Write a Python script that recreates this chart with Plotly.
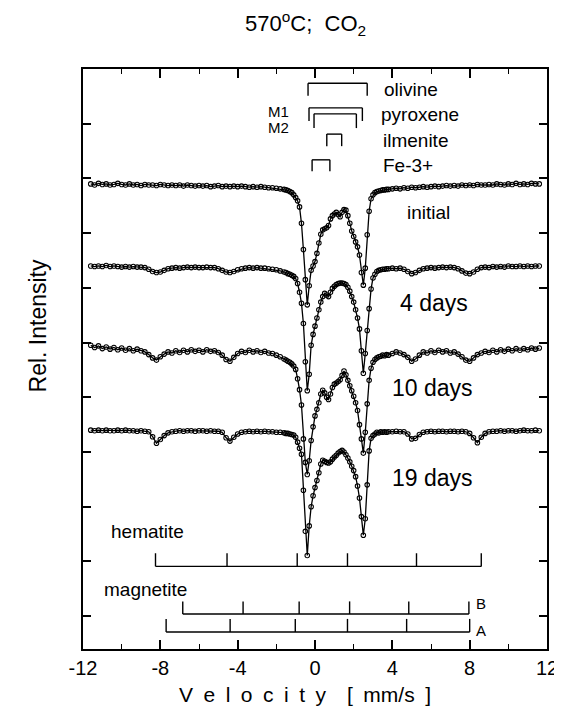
import plotly.graph_objects as go

# ---------------- data ----------------
vel_left = [-11.6, -11.4, -11.2, -11.0, -10.8, -10.6, -10.4, -10.2, -10.0, -9.8,
            -9.6, -9.4, -9.2, -9.0, -8.8, -8.6, -8.4, -8.2, -8.0, -7.8,
            -7.6, -7.4, -7.2, -7.0, -6.8, -6.6, -6.4, -6.2, -6.0, -5.8,
            -5.6, -5.4, -5.2, -5.0, -4.8, -4.6, -4.4, -4.2, -4.0, -3.8,
            -3.6, -3.4, -3.2, -3.0, -2.8, -2.6, -2.4, -2.2, -2.0, -1.8]
vel_center = [-1.6, -1.5, -1.4, -1.3, -1.2, -1.1, -1.0, -0.9, -0.8, -0.7,
              -0.6, -0.5, -0.4, -0.3, -0.2, -0.1, 0.0, 0.1, 0.2, 0.3,
              0.4, 0.5, 0.6, 0.7, 0.8, 0.9, 1.0, 1.1, 1.2, 1.3,
              1.4, 1.5, 1.6, 1.7, 1.8, 1.9, 2.0, 2.1, 2.2, 2.3,
              2.4, 2.5, 2.6, 2.7, 2.8, 2.9, 3.0, 3.1, 3.2, 3.3,
              3.4, 3.5, 3.6, 3.7, 3.8]
vel_right = [4.0, 4.2, 4.4, 4.6, 4.8, 5.0, 5.2, 5.4, 5.6, 5.8,
             6.0, 6.2, 6.4, 6.6, 6.8, 7.0, 7.2, 7.4, 7.6, 7.8,
             8.0, 8.2, 8.4, 8.6, 8.8, 9.0, 9.2, 9.4, 9.6, 9.8,
             10.0, 10.2, 10.4, 10.6, 10.8, 11.0, 11.2, 11.4, 11.6]
velocity = vel_left + vel_center + vel_right

# absorption (depth below each spectrum's baseline), axis units
abs_initial = [
    0.00, 0.02, -0.01, 0.01, 0.00, 0.02, 0.01, -0.01, 0.01, 0.02,
    0.00, 0.02, 0.01, 0.03, 0.01, 0.02, 0.02, 0.03, 0.01, 0.02,
    0.03, 0.02, 0.03, 0.02, 0.04, 0.02, 0.03, 0.04, 0.03, 0.04,
    0.03, 0.05, 0.04, 0.03, 0.05, 0.04, 0.05, 0.04, 0.05, 0.04,
    0.05, 0.06, 0.05, 0.06, 0.05, 0.06, 0.07, 0.07, 0.08, 0.09,
    0.10, 0.11, 0.12, 0.14, 0.16, 0.20, 0.25, 0.31, 0.42, 0.72,
    1.20, 1.75, 2.21, 1.86, 1.58, 1.50, 1.42, 1.27, 1.08, 0.92,
    0.84, 0.82, 0.80, 0.76, 0.64, 0.58, 0.55, 0.52, 0.56, 0.60,
    0.52, 0.47, 0.48, 0.58, 0.72, 0.86, 0.96, 1.06, 1.15, 1.30,
    1.62, 1.85, 1.54, 0.93, 0.50, 0.27, 0.20, 0.16, 0.14, 0.13,
    0.12, 0.11, 0.11, 0.10, 0.10,
    0.09, 0.08, 0.09, 0.07, 0.08, 0.06, 0.07, 0.06, 0.05, 0.06,
    0.05, 0.04, 0.05, 0.04, 0.03, 0.04, 0.03, 0.04, 0.02, 0.03,
    0.02, 0.03, 0.01, 0.02, 0.02, 0.01, 0.02, 0.00, 0.01, 0.02,
    0.00, 0.01, -0.01, 0.01, 0.00, 0.01, -0.01, 0.00, 0.00]

abs_4days = [
    0.00, 0.01, 0.00, 0.01, -0.01, 0.01, 0.00, 0.01, 0.02, 0.01,
    0.02, 0.01, 0.02, 0.02, 0.03, 0.06, 0.10, 0.12, 0.11, 0.08,
    0.05, 0.04, 0.03, 0.04, 0.03, 0.02, 0.03, 0.02, 0.03, 0.03,
    0.02, 0.03, 0.03, 0.05, 0.08, 0.11, 0.12, 0.10, 0.07, 0.05,
    0.04, 0.03, 0.04, 0.03, 0.04, 0.04, 0.05, 0.06, 0.07, 0.09,
    0.11, 0.12, 0.14, 0.15, 0.17, 0.19, 0.23, 0.32, 0.48, 0.68,
    1.05, 1.75, 2.28, 1.98, 1.45, 1.25, 1.10, 0.95, 0.80, 0.66,
    0.56, 0.50, 0.53, 0.56, 0.48, 0.41, 0.37, 0.34, 0.32, 0.31,
    0.31, 0.32, 0.34, 0.39, 0.46, 0.56, 0.66, 0.80, 0.95, 1.15,
    1.55, 1.96, 1.60, 1.18, 0.78, 0.42, 0.22, 0.15, 0.10, 0.08,
    0.07, 0.06, 0.06, 0.05, 0.05,
    0.04, 0.05, 0.04, 0.06, 0.10, 0.14, 0.12, 0.08, 0.05, 0.04,
    0.03, 0.04, 0.03, 0.02, 0.03, 0.02, 0.03, 0.05, 0.09, 0.13,
    0.14, 0.11, 0.06, 0.03, 0.02, 0.03, 0.01, 0.02, 0.01, 0.02,
    0.00, 0.01, 0.01, 0.00, 0.01, 0.00, 0.01, 0.00, 0.00]

abs_10days = [
    -0.09, -0.05, -0.08, -0.03, -0.06, -0.02, -0.05, -0.01, -0.04, 0.00,
    -0.03, 0.01, -0.02, 0.01, 0.03, 0.08, 0.14, 0.18, 0.12, 0.07,
    0.03, 0.05, 0.01, 0.04, 0.00, 0.03, -0.01, 0.02, 0.00, 0.03,
    -0.01, 0.02, 0.01, 0.04, 0.09, 0.17, 0.20, 0.13, 0.06, 0.02,
    0.04, 0.00, 0.03, 0.01, 0.04, 0.02, 0.05, 0.06, 0.09, 0.12,
    0.16, 0.18, 0.20, 0.22, 0.25, 0.29, 0.35, 0.52, 0.72, 1.00,
    1.62, 2.05, 2.27, 2.02, 1.65, 1.40, 1.20, 1.08, 0.96, 0.80,
    0.73, 0.78, 0.86, 0.90, 0.80, 0.68, 0.62, 0.60, 0.57, 0.54,
    0.46, 0.38, 0.45, 0.55, 0.65, 0.74, 0.84, 0.96, 1.10, 1.36,
    1.62, 1.88, 1.50, 0.98, 0.55, 0.33, 0.22, 0.17, 0.14, 0.12,
    0.11, 0.09, 0.10, 0.08, 0.09,
    0.06, 0.03, 0.05, 0.08, 0.13, 0.20, 0.16, 0.09, 0.03, 0.05,
    0.01, 0.04, 0.00, 0.03, 0.01, 0.05, 0.03, 0.07, 0.12, 0.18,
    0.20, 0.14, 0.08, 0.05, 0.02, 0.04, 0.00, 0.03, -0.01, 0.02,
    -0.02, 0.01, -0.03, 0.00, -0.03, -0.01, -0.04, -0.02, -0.04]

abs_19days = [
    0.00, 0.01, 0.00, 0.01, 0.00, 0.01, 0.01, 0.00, 0.01, 0.00,
    0.01, 0.01, 0.02, 0.01, 0.02, 0.03, 0.12, 0.24, 0.17, 0.10,
    0.05, 0.03, 0.02, 0.01, 0.02, 0.01, 0.01, 0.02, 0.01, 0.01,
    0.02, 0.01, 0.02, 0.02, 0.04, 0.14, 0.20, 0.13, 0.07, 0.04,
    0.03, 0.02, 0.03, 0.02, 0.03, 0.02, 0.03, 0.03, 0.04, 0.04,
    0.05, 0.06, 0.06, 0.07, 0.08, 0.09, 0.13, 0.22, 0.33, 0.44,
    1.10, 1.85, 2.29, 1.75, 1.40, 1.20, 1.05, 0.92, 0.78, 0.62,
    0.55, 0.57, 0.59, 0.60, 0.58, 0.53, 0.49, 0.46, 0.42, 0.39,
    0.37, 0.40, 0.45, 0.51, 0.58, 0.66, 0.74, 0.85, 1.02, 1.24,
    1.58, 1.92, 1.62, 1.00, 0.38, 0.15, 0.10, 0.07, 0.04, 0.05,
    0.03, 0.04, 0.03, 0.04, 0.03,
    0.03, 0.02, 0.03, 0.03, 0.07, 0.16, 0.15, 0.08, 0.04, 0.03,
    0.02, 0.03, 0.02, 0.02, 0.03, 0.02, 0.02, 0.03, 0.02, 0.03,
    0.06, 0.14, 0.23, 0.13, 0.06, 0.03, 0.02, 0.02, 0.01, 0.02,
    0.01, 0.01, 0.02, 0.01, 0.00, 0.01, 0.01, 0.00, 0.01]

spectra_names = ["initial", "4 days", "10 days", "19 days"]
spectra_abs = [abs_initial, abs_4days, abs_10days, abs_19days]
spectra_offsets = [7.90, 6.40, 4.86, 3.40]

for a in spectra_abs:
    assert len(a) == len(velocity), (len(a), len(velocity))

# stick-diagram line positions (mm/s)
olivine = [-0.36, 2.70]
pyroxene_m1 = [-0.31, 2.45]
pyroxene_m2 = [-0.05, 2.14]
ilmenite = [0.61, 1.38]
fe3 = [-0.15, 0.77]
hematite = [-8.25, -4.55, -0.92, 1.68, 5.25, 8.60]
magnetite_b = [-6.84, -3.72, -0.82, 1.79, 4.85, 7.96]
magnetite_a = [-7.70, -4.39, -1.02, 1.68, 4.74, 8.00]

x_ticks = [-12, -8, -4, 0, 4, 8, 12]

# ---------------- figure ----------------
FONT = "Liberation Sans, Arial, Helvetica, sans-serif"
fig = go.Figure()

for name, a, off in zip(spectra_names, spectra_abs, spectra_offsets):
    fig.add_trace(go.Scatter(
        x=velocity, y=[off - d for d in a], mode="lines+markers", name=name,
        line=dict(color="black", width=1.3),
        marker=dict(symbol="circle-open", size=4.5, color="black",
                    line=dict(width=1.1, color="black")),
        showlegend=False, hoverinfo="skip"))


def stick_group(lines, level, end):
    xs = [lines[0], lines[-1], None]
    ys = [level, level, None]
    for p in lines:
        xs += [p, p, None]
        ys += [level, end, None]
    fig.add_trace(go.Scatter(x=xs, y=ys, mode="lines",
                             line=dict(color="black", width=1.4),
                             showlegend=False, hoverinfo="skip"))


stick_group(olivine, 9.74, 9.51)
stick_group(pyroxene_m1, 9.29, 9.05)
stick_group(pyroxene_m2, 9.18, 8.92)
stick_group(ilmenite, 8.81, 8.59)
stick_group(fe3, 8.34, 8.13)
stick_group(hematite, 0.91, 1.15)
stick_group(magnetite_b, 0.04, 0.27)
stick_group(magnetite_a, -0.29, -0.05)

ann = []


def label(text, x, y, size, xanchor="center", xref="x", yref="y", **kw):
    ann.append(dict(text=text, x=x, y=y, xref=xref, yref=yref, showarrow=False,
                    xanchor=xanchor, yanchor="middle",
                    font=dict(family=FONT, size=size, color="black"), **kw))


label("olivine", 3.45, 9.62, 19, "left")
label("pyroxene", 3.30, 9.16, 19, "left")
label("ilmenite", 3.40, 8.70, 19, "left")
label("Fe-3+", 3.40, 8.24, 19, "left")
label("M1", -1.25, 9.23, 15, "right")
label("M2", -1.25, 8.94, 15, "right")
label("initial", 5.87, 7.37, 19)
label("4 days", 6.17, 5.72, 23)
label("10 days", 6.07, 4.17, 23)
label("19 days", 6.07, 2.52, 23)
label("hematite", -8.67, 1.55, 19)
label("magnetite", -8.78, 0.48, 19)
label("B", 8.57, 0.24, 15)
label("A", 8.57, -0.26, 15)
label("570<sup>o</sup>C;  CO<sub>2</sub>", 0.479, 1.078, 22, xref="paper", yref="paper")
label("V\u2002e\u2002l\u2002o\u2002c\u2002i\u2002t\u2002y\u2002\u2002[\u2002mm/s\u2002]",
      0.479, -0.079, 21, xref="paper", yref="paper")
label("Rel. Intensity", -0.098, 0.557, 23, xref="paper", yref="paper", textangle=-90)

fig.update_layout(
    width=562, height=715,
    margin=dict(l=75, r=17, t=61, b=74),
    paper_bgcolor="white", plot_bgcolor="white",
    font=dict(family=FONT, color="black"),
    annotations=ann, showlegend=False,
    xaxis=dict(range=[-12, 12], tickvals=x_ticks, ticktext=[str(t) for t in x_ticks],
               ticks="inside", ticklen=9, tickwidth=1.5, tickcolor="black",
               minor=dict(dtick=2, tick0=0, ticks="inside", ticklen=5, tickwidth=1.3,
                          tickcolor="black", showgrid=False),
               showline=True, linewidth=1.6, linecolor="black", mirror="ticks",
               showgrid=False, zeroline=False,
               tickfont=dict(family=FONT, size=20, color="black")),
    yaxis=dict(range=[-0.6, 10], tick0=0, dtick=1, ticks="inside", ticklen=8,
               tickwidth=1.5, tickcolor="black", showticklabels=False,
               showline=True, linewidth=1.6, linecolor="black", mirror="ticks",
               showgrid=False, zeroline=False),
)

fig.write_html("out.html")
